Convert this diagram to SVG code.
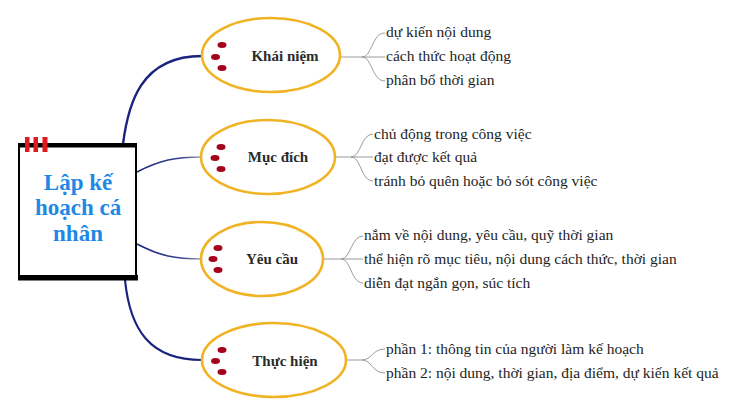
<svg xmlns="http://www.w3.org/2000/svg" width="730" height="402" viewBox="0 0 730 402">
<defs>
<linearGradient id="gNavy" x1="0" y1="0" x2="1" y2="0">
<stop offset="0" stop-color="#1a237e"/>
<stop offset="0.7" stop-color="#3a4590"/>
<stop offset="1" stop-color="#a5aabb"/>
</linearGradient>
<style>
.main{fill:none;stroke:#1a237e;stroke-linecap:round}
.mid{fill:none;stroke:url(#gNavy);stroke-width:1.6}
.br{fill:none;stroke:#9a9a9a;stroke-width:1}
.ell{fill:#ffffff;stroke:#f0b323;stroke-width:2.6}
.dot{fill:#a3001b}
.lbl{font-family:"Liberation Serif","DejaVu Serif",serif;font-weight:bold;font-size:15px;fill:#2b2b2b;text-anchor:middle}
.itm{font-family:"Liberation Serif","DejaVu Serif",serif;font-size:15.5px;fill:#1e1e1e}
.ttl{font-family:"Liberation Serif","DejaVu Serif",serif;font-weight:bold;font-size:23px;fill:#1e88e5;text-anchor:middle}
.tab{fill:#e0191e}
</style>
</defs>
<rect width="730" height="402" fill="#ffffff"/>

<g id="connectors">
<path class="main" stroke-width="2.4" d="M123,144 C128,105 140,56 202,56"/>
<path class="mid" d="M137,172 C160,160 175,157 202,157"/>
<path class="mid" d="M137,244 C160,256 175,259 202,259"/>
<path class="main" stroke-width="2.2" d="M125,280 C130,330 150,360 202,360"/>

<path class="br" d="M341,57 H362 M362,57 C372,57 372,33 385,33 M362,57 H385 M362,57 C372,57 372,81 385,81"/>
<path class="br" d="M335,157 H351 M351,157 C361,157 361,134 373,134 M351,157 H373 M351,157 C361,157 361,181 373,181"/>
<path class="br" d="M323,259 H341 M341,259 C351,259 351,236 363,236 M341,259 H363 M341,259 C351,259 351,283 363,283"/>
<path class="br" d="M346,360 H362 M362,360 C372,360 372,349 385,349 M362,360 C372,360 372,373 385,373"/>
</g>

<g id="center">
<rect x="19" y="145" width="117" height="133" fill="#ffffff" stroke="#000000" stroke-width="2"/>
<rect x="18" y="143" width="119" height="4.5" fill="#000000"/>
<rect x="18" y="275" width="120" height="5.5" fill="#000000"/>
<rect class="tab" x="25" y="137" width="4.5" height="15"/>
<rect class="tab" x="33.5" y="137" width="4.5" height="15"/>
<rect class="tab" x="42.5" y="137" width="5" height="15"/>
<text class="ttl" x="78" y="190">Lập kế</text>
<text class="ttl" x="78" y="215">hoạch cá</text>
<text class="ttl" x="78" y="241">nhân</text>
</g>

<g id="khai-niem">
<ellipse class="ell" cx="271" cy="55" rx="69" ry="37"/>
<ellipse class="dot" cx="222" cy="45" rx="4.5" ry="3"/>
<ellipse class="dot" cx="215.5" cy="57" rx="4.5" ry="3"/>
<ellipse class="dot" cx="222" cy="68" rx="4.5" ry="3"/>
<text class="lbl" x="285" y="61">Khái niệm</text>
<text class="itm" x="386" y="37">dự kiến nội dung</text>
<text class="itm" x="386" y="61">cách thức hoạt động</text>
<text class="itm" x="386" y="85">phân bổ thời gian</text>
</g>

<g id="muc-dich">
<ellipse class="ell" cx="268" cy="157" rx="67" ry="37"/>
<ellipse class="dot" cx="221" cy="147" rx="4.5" ry="3"/>
<ellipse class="dot" cx="215" cy="158" rx="4.5" ry="3"/>
<ellipse class="dot" cx="221" cy="169" rx="4.5" ry="3"/>
<text class="lbl" x="278" y="162">Mục đích</text>
<text class="itm" x="374" y="139">chủ động trong công việc</text>
<text class="itm" x="374" y="162">đạt được kết quả</text>
<text class="itm" x="374" y="186">tránh bỏ quên hoặc bỏ sót công việc</text>
</g>

<g id="yeu-cau">
<ellipse class="ell" cx="262" cy="259" rx="61" ry="37"/>
<ellipse class="dot" cx="218" cy="248" rx="4.5" ry="3"/>
<ellipse class="dot" cx="213" cy="259" rx="4.5" ry="3"/>
<ellipse class="dot" cx="218" cy="270" rx="4.5" ry="3"/>
<text class="lbl" x="272" y="264">Yêu cầu</text>
<text class="itm" x="364" y="240">nắm về nội dung, yêu cầu, quỹ thời gian</text>
<text class="itm" x="364" y="264">thể hiện rõ mục tiêu, nội dung cách thức, thời gian</text>
<text class="itm" x="364" y="288">diễn đạt ngắn gọn, súc tích</text>
</g>

<g id="thuc-hien">
<ellipse class="ell" cx="274" cy="360" rx="72" ry="37"/>
<ellipse class="dot" cx="222" cy="350" rx="4.5" ry="3"/>
<ellipse class="dot" cx="215.5" cy="361" rx="4.5" ry="3"/>
<ellipse class="dot" cx="222" cy="372" rx="4.5" ry="3"/>
<text class="lbl" x="285" y="366">Thực hiện</text>
<text class="itm" x="386" y="354">phần 1: thông tin của người làm kế hoạch</text>
<text class="itm" x="386" y="378">phần 2: nội dung, thời gian, địa điểm, dự kiến kết quả</text>
</g>
</svg>
